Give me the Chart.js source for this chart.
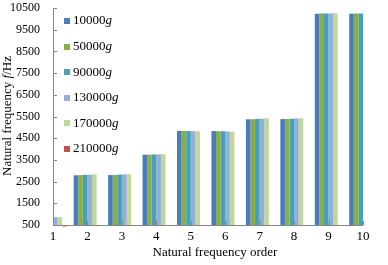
<!DOCTYPE html>
<html>
<head>
<meta charset="utf-8">
<script src="https://cdn.jsdelivr.net/npm/chart.js@4"></script>
<style>
    html, body { margin: 0; padding: 0; background: #fff; }
    #wrap { width: 388px; height: 265px; position: relative; }
</style>
</head>
<body>
<div id="wrap"><canvas id="chart" width="388" height="265"></canvas></div>
<script>
// Data
const categories = ['1', '2', '3', '4', '5', '6', '7', '8', '9', '10'];
const seriesNames = ['10000', '50000', '90000', '130000', '170000', '210000'];
const s10000  = [850, 2790, 2800, 3740, 4840, 4830, 5370, 5380, 10240, 10240];
const s50000  = [850, 2800, 2810, 3745, 4835, 4825, 5375, 5385, 10245, 10245];
const s90000  = [855, 2810, 2820, 3750, 4830, 4820, 5390, 5395, 10250, 10250];
const s130000 = [860, 2820, 2830, 3755, 4825, 4810, 5400, 5410, 10250, 10250];
const s170000 = [860, 2830, 2840, 3760, 4815, 4800, 5420, 5420, 10255, 10255];
const s210000 = [430, null, null, null, null, null, null, null, null, null];
const yTicks = [500, 1500, 2500, 3500, 4500, 5500, 6500, 7500, 8500, 9500, 10500];

const colors = ['#4a7cba', '#8aad4a', '#45a0ba', '#93aed8', '#c0d69b', '#c0504d'];
const allSeries = [s10000, s50000, s90000, s130000, s170000, s210000];

const serif = '"Liberation Serif", "DejaVu Serif", serif';
const axisColor = '#878787';

document.addEventListener('DOMContentLoaded', function() {
    const ctx = document.getElementById('chart').getContext('2d');

    const datasets = allSeries.map((data, i) => ({
        label: seriesNames[i] + 'g',
        data: data,
        backgroundColor: colors[i],
        borderWidth: 0,
        clip: i === 5 ? { left: 0, top: 0, right: 0, bottom: 2 } : undefined
    }));

    // Draws titles, legend (with italic parts) and inside tick marks
    const decorations = {
        id: 'decorations',
        afterDatasetsDraw(chart) {
            const c = chart.ctx;
            const area = chart.chartArea;
            const x = chart.scales.x;
            const y = chart.scales.y;

            c.save();
            c.strokeStyle = axisColor;
            c.lineWidth = 1;
            c.beginPath();
            // axis lines
            c.moveTo(Math.round(area.left) + 0.5, area.top);
            c.lineTo(Math.round(area.left) + 0.5, Math.round(area.bottom) + 0.5);
            c.lineTo(area.right, Math.round(area.bottom) + 0.5);
            // inside ticks on y
            yTicks.forEach(v => {
                const py = Math.round(y.getPixelForValue(v)) + 0.5;
                c.moveTo(area.left, py);
                c.lineTo(area.left + 4, py);
            });
            // inside ticks on x
            categories.forEach((cat, i) => {
                const px = Math.round(x.getPixelForValue(i)) + 0.5;
                c.moveTo(px, area.bottom);
                c.lineTo(px, area.bottom - 4);
            });
            c.stroke();

            // legend
            c.textBaseline = 'middle';
            c.textAlign = 'left';
            seriesNames.forEach((name, i) => {
                const cy = 21 + i * 25.6;
                c.fillStyle = colors[i];
                c.fillRect(64, Math.round(cy - 3), 6, 6);
                c.fillStyle = '#000';
                c.font = '13px ' + serif;
                c.fillText(name, 73, cy);
                const w = c.measureText(name).width;
                c.font = 'italic 13px ' + serif;
                c.fillText('g', 73 + w, cy);
            });

            // x title
            c.font = '13px ' + serif;
            c.textAlign = 'center';
            c.fillText('Natural frequency order', 215, 253);

            // y title with italic f
            c.translate(8, 116);
            c.rotate(-Math.PI / 2);
            const parts = [['Natural frequency ', ''], ['f', 'italic '], ['/Hz', '']];
            let total = 0;
            parts.forEach(p => {
                c.font = p[1] + '13px ' + serif;
                total += c.measureText(p[0]).width;
            });
            let pos = -total / 2;
            c.textAlign = 'left';
            parts.forEach(p => {
                c.font = p[1] + '13px ' + serif;
                c.fillText(p[0], pos, 0);
                pos += c.measureText(p[0]).width;
            });
            c.restore();
        }
    };

    new Chart(ctx, {
        type: 'bar',
        data: { labels: categories, datasets: datasets },
        options: {
            responsive: false,
            animation: false,
            events: [],
            layout: { padding: { top: 8, right: 25, left: 0, bottom: 0 } },
            datasets: {
                bar: { categoryPercentage: 0.8, barPercentage: 1.0 }
            },
            plugins: {
                legend: { display: false },
                tooltip: { enabled: false }
            },
            scales: {
                x: {
                    offset: false,
                    grid: { display: false, drawTicks: false },
                    border: { display: false },
                    ticks: {
                        color: '#000',
                        padding: 4,
                        maxRotation: 0,
                        autoSkip: false,
                        font: { family: serif, size: 13 }
                    },
                    afterFit: scale => {
                        scale.height = 40;
                        scale.paddingLeft = 0;
                        scale.paddingRight = 0;
                    }
                },
                y: {
                    min: 500,
                    max: 10500,
                    afterBuildTicks: scale => {
                        scale.ticks = yTicks.map(v => ({ value: v }));
                    },
                    grid: { display: false, drawTicks: false },
                    border: { display: false },
                    ticks: {
                        color: '#000',
                        padding: 13,
                        font: { family: serif, size: 12 },
                        callback: value => String(value)
                    },
                    afterFit: scale => {
                        scale.width = 53;
                        scale.paddingTop = 0;
                        scale.paddingBottom = 0;
                    }
                }
            }
        },
        plugins: [decorations]
    });
});
</script>
</body>
</html>
